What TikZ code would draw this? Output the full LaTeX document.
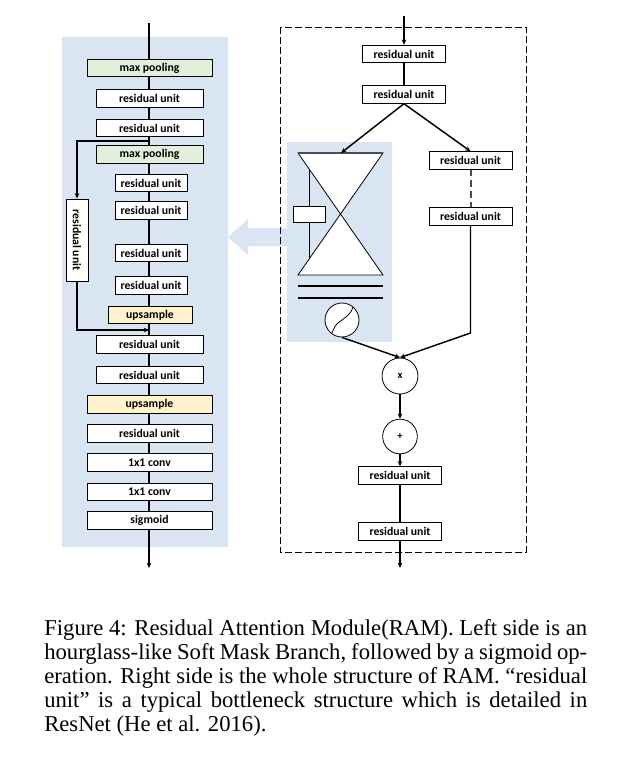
\documentclass[tikz,border=0pt]{standalone}
\usepackage{fontspec}
\setmainfont{Liberation Serif}
\newfontfamily\boxfont{Carlito}
\usetikzlibrary{arrows.meta}
\definecolor{panelblue}{RGB}{218,229,243}
\definecolor{poolgreen}{RGB}{226,239,218}
\definecolor{upyellow}{RGB}{255,242,204}
\begin{document}
\begin{tikzpicture}[x=0.75pt,y=-0.75pt,
  unitbox/.style={draw=black, line width=0.7pt, fill=white, inner sep=0pt,
    minimum height=13.1pt, font=\boxfont\bfseries\fontsize{8.8}{10}\selectfont},
  wide/.style={minimum width=93.75pt},
  mid/.style={minimum width=80.25pt},
  narrow/.style={minimum width=54pt},
  upnarrow/.style={minimum width=63pt},
  rwide/.style={minimum width=62.25pt},
  pool/.style={unitbox, fill=poolgreen},
  upbox/.style={unitbox, fill=upyellow},
  conn/.style={line width=1.1pt, draw=black},
  arr/.style={conn, -{Stealth[length=4pt,width=3.5pt]}},
  opcircle/.style={circle, draw=black, line width=0.6pt, fill=white, inner sep=0pt,
    font=\boxfont\bfseries\fontsize{8}{9}\selectfont},
  captxt/.style={anchor=base west, inner sep=0pt, font=\fontsize{17}{18}\selectfont},
  thin/.style={line width=0.6pt, draw=black}
]
\useasboundingbox (0,0) rectangle (637,769);
\fill[white] (0,0) rectangle (637,769);

% panels and big arrow
\fill[panelblue] (62,37) rectangle (228,547);
\fill[panelblue] (228,237) -- (248,219) -- (248,228) -- (289,228) -- (289,246) -- (248,246) -- (248,255) -- cycle;
\fill[panelblue] (287,142) rectangle (392,342);
\draw[line width=0.75pt, dash pattern=on 5pt off 2.5pt] (280,27) rectangle (526,552);

% ---------- left: soft mask branch ----------
\coordinate (Lin) at (149,23);
\coordinate (Lout) at (149,568);
\draw[arr] (Lin) -- (Lout);

\node[pool, wide]   (l1)  at (149.5,68)    {max pooling};
\node[unitbox, mid] (l2)  at (149.5,98.5)  {residual unit};
\node[unitbox, mid] (l3)  at (149.5,128)   {residual unit};
\node[pool, mid]    (l4)  at (149.5,154.5) {max pooling};
\node[unitbox, narrow] (l5) at (151,183)   {residual unit};
\node[unitbox, narrow] (l6) at (151,210.5) {residual unit};
\node[unitbox, narrow] (l7) at (151,253)   {residual unit};
\node[unitbox, narrow] (l8) at (151,285.5) {residual unit};
\node[upbox, upnarrow] (l9) at (150,315)   {upsample};
\node[unitbox, mid] (l10) at (149.5,344.5) {residual unit};
\node[unitbox, mid] (l11) at (149.5,375)   {residual unit};
\node[upbox, wide]  (l12) at (149.5,404.5) {upsample};
\node[unitbox, wide] (l13) at (149.5,433.5) {residual unit};
\node[unitbox, wide] (l14) at (149.5,462.5) {1x1 conv};
\node[unitbox, wide] (l15) at (149.5,492)   {1x1 conv};
\node[unitbox, wide] (l16) at (149.5,520.5) {sigmoid};

\node[unitbox, rotate=-90, minimum width=61.5pt, minimum height=16.5pt] (vru) at (77,240) {residual unit};
\coordinate (skA) at (149,141);
\coordinate (skB) at (149,330);
\draw[arr] (skA) -| (vru.west);
\draw[arr] (vru.east) |- (skB);

% ---------- right: whole module ----------
\coordinate (Rin) at (404,16);
\node[unitbox, rwide] (r1) at (404,54)    {residual unit};
\node[unitbox, rwide] (r2) at (404,94.5)  {residual unit};
\node[unitbox, rwide] (r3) at (470.5,160.5) {residual unit};
\node[unitbox, rwide] (r4) at (470.5,216.5) {residual unit};
\node[unitbox, rwide] (r5) at (400,475.5) {residual unit};
\node[unitbox, rwide] (r6) at (400,531.5) {residual unit};
\draw[arr] (Rin) -- (r1.north);
\draw[conn] (r1) -- (r2);

% hourglass
\filldraw[fill=white, line width=0.6pt] (298,153) -- (383,153) -- (298,275) -- (383,275) -- cycle;
\draw[line width=1.1pt, black!70] (298,153) -- (383,153);
\coordinate (hgtop) at (341,153);
\node[draw=black, line width=0.6pt, fill=white, minimum width=24pt, minimum height=12pt, inner sep=0pt] (hgbox) at (309,214) {};
\coordinate (hgA) at (309,169);
\coordinate (hgB) at (309,259);
\draw[thin] (hgA) -- (hgbox.north);
\draw[thin] (hgbox.south) -- (hgB);
\draw[line width=1.9pt] (298,286) -- (383,286);
\draw[line width=1.9pt] (298,298) -- (383,298);
\node[opcircle, minimum size=25.5pt] (sig) at (342,320) {};
\draw[thin] (332,333) .. controls (336,322) and (340,322) .. (342,320) .. controls (345,317) and (350,316) .. (353,307);

\draw[arr] (r2.south) -- (hgtop);
\draw[arr] (r2.south) -- (r3.north);
\draw[line width=1.5pt, draw=black!70, dash pattern=on 5pt off 3pt] (r3) -- (r4);

\node[opcircle, minimum size=27pt] (mul) at (400,376) {x};
\node[opcircle, minimum size=26pt] (add) at (400,436.5) {+};
\coordinate (bend) at (470.5,333);
\draw[arr] (r4.south) -- (bend) -- (mul.north);
\draw[arr] (sig.south) -- (mul.north);
\draw[arr] (mul) -- (add);
\draw[arr] (add) -- (r5);
\draw[conn] (r5) -- (r6);
\coordinate (Rout) at (400,568);
\draw[arr] (r6) -- (Rout);

% ---------- caption ----------
\node[captxt] (cap1) at (44,635) {\makebox[407.25pt][s]{Figure 4: Residual Attention Module(RAM). Left side is an}};
\node[captxt] (cap2) at (44,659) {\makebox[407.25pt][s]{hourglass-like Soft Mask Branch, followed by a sigmoid op-}};
\node[captxt] (cap3) at (44,683) {\makebox[407.25pt][s]{eration. Right side is the whole structure of RAM. “residual}};
\node[captxt] (cap4) at (44,707) {\makebox[407.25pt][s]{unit” is a typical bottleneck structure which is detailed in}};
\node[captxt] (cap5) at (44,731) {ResNet (He et al. 2016).};
\end{tikzpicture}
\end{document}
